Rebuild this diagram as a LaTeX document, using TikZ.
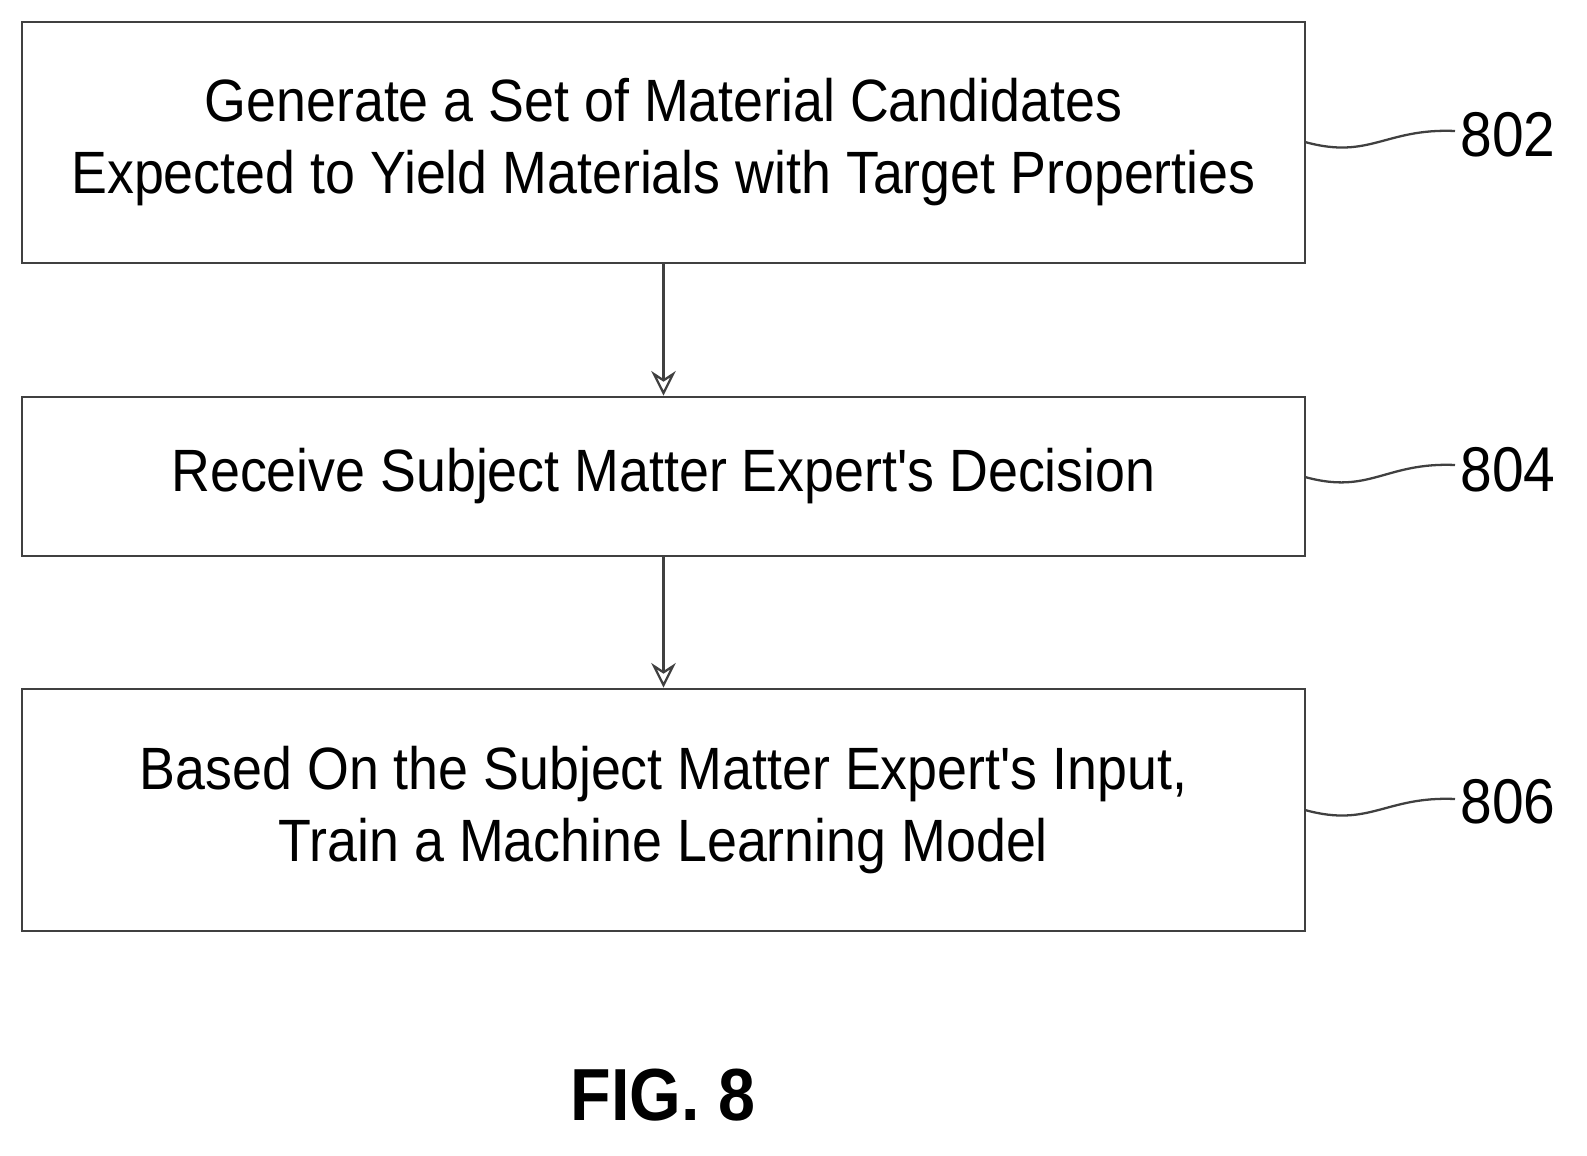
\documentclass[tikz,border=0pt]{standalone}
\usepackage{fontspec}
\newfontfamily\diagfont{Liberation Sans}[FakeStretch=0.9]
\usetikzlibrary{arrows.meta}
\begin{document}
\begin{tikzpicture}[x=0.02cm,y=-0.02cm,
  box/.style={draw=black!75,line width=1.6pt,inner sep=0,align=center,font=\diagfont\fontsize{34}{41}\selectfont},
  lab/.style={font=\diagfont\fontsize{36}{40}\selectfont,anchor=west,inner sep=0},
  arr/.style={draw=black!75,line width=1.3pt,-{Stealth[length=14pt,width=14pt,open]}},
  sq/.style={draw=black!75,line width=1.3pt}]
\useasboundingbox (0,0) rectangle (1587,1156);
\node[box,minimum width=1283*0.02cm,minimum height=241*0.02cm] (b1) at (663.5,142.5)
  {Generate a Set of Material Candidates\\Expected to Yield Materials with Target Properties};
\node[box,minimum width=1283*0.02cm,minimum height=159*0.02cm] (b2) at (663.5,476.5)
  {Receive Subject Matter Expert's Decision};
\node[box,minimum width=1283*0.02cm,minimum height=242*0.02cm] (b3) at (663.5,810)
  {Based On the Subject Matter Expert's Input,\\Train a Machine Learning Model};
\draw[arr] (b1.south) -- (b2.north);
\draw[arr] (b2.south) -- (b3.north);
\node[lab] (l1) at (1460,135) {802};
\node[lab] (l2) at (1460,470) {804};
\node[lab] (l3) at (1460,802) {806};
\coordinate (e1) at (1305,142);
\coordinate (e2) at (1305,477);
\coordinate (e3) at (1305,810);
\draw[sq] (e1) .. controls (1370,160) and (1385,128) .. (1455,131);
\draw[sq] (e2) .. controls (1370,495) and (1385,462) .. (1455,465);
\draw[sq] (e3) .. controls (1370,828) and (1385,796) .. (1455,799);
\node[font=\diagfont\bfseries\fontsize{42}{48}\selectfont] (fig) at (663,1095) {FIG. 8};
\end{tikzpicture}
\end{document}
